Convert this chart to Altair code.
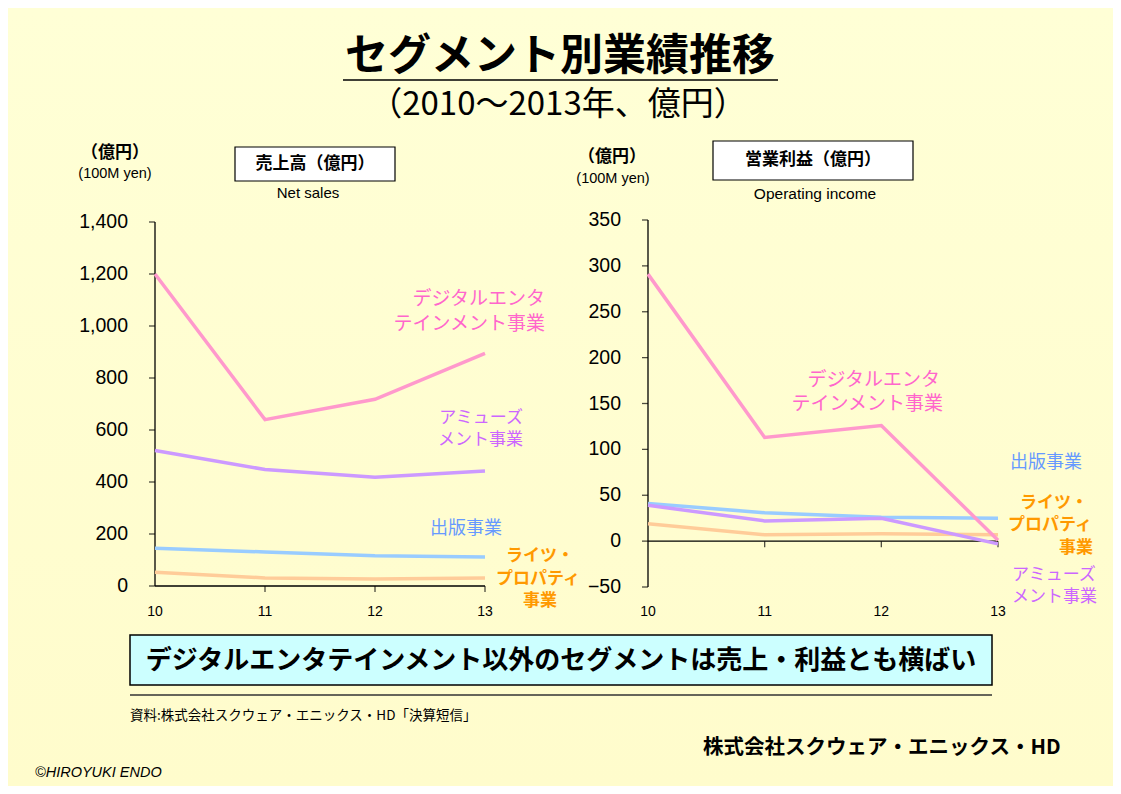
import altair as alt
import pandas as pd

# ---------------- data ----------------
years = [10, 11, 12, 13]
series_names = ["出版事業", "ライツ・プロパティ事業", "アミューズメント事業", "デジタルエンタテインメント事業"]

sales_publishing = [145, 131, 116, 112]
sales_rights = [53, 31, 27, 31]
sales_amusement = [521, 448, 418, 442]
sales_digital = [1200, 640, 718, 895]

op_publishing = [41, 31, 26, 25]
op_rights = [19, 7, 8, 7]
op_amusement = [39, 22, 25, -3]
op_digital = [291, 113, 126, 1]

sales_ticks = [0, 200, 400, 600, 800, 1000, 1200, 1400]
op_ticks = [-50, 0, 50, 100, 150, 200, 250, 300, 350]
x_ticks = [11, 12, 13]

line_colors = ["#99CCFF", "#FFCC99", "#CC99FF", "#FF99CC"]

O = 8  # page margin
JP = "Noto Sans CJK JP"
LAT = "Liberation Sans"

one = pd.DataFrame({"a": [0]})


def P(v):
    return v - O


def txt(t, x, y, size, color="black", weight="normal", align="center", font=JP, style="normal"):
    return alt.Chart(one).mark_text(
        text=t, fontSize=size, color=color, fontWeight=weight, align=align,
        baseline="middle", font=font, fontStyle=style
    ).encode(x=alt.value(P(x)), y=alt.value(P(y)))


def box(x1, y1, x2, y2, fill, stroke="black", sw=1.2):
    return alt.Chart(one).mark_rect(fill=fill, stroke=stroke, strokeWidth=sw).encode(
        x=alt.value(P(x1)), x2=alt.value(P(x2)), y=alt.value(P(y1)), y2=alt.value(P(y2)))


def hline(x1, x2, y, color="black", sw=1.5):
    return alt.Chart(one).mark_rule(color=color, strokeWidth=sw).encode(
        x=alt.value(P(x1)), x2=alt.value(P(x2)), y=alt.value(P(y)))


def panel(series, ticks, ydom, xrange_px, yrange_px, fmt):
    xs = alt.Scale(domain=[10, 13], range=[P(xrange_px[0]), P(xrange_px[1])], nice=False, zero=False)
    ys = alt.Scale(domain=ydom, range=[P(yrange_px[0]), P(yrange_px[1])], nice=False, zero=False)
    layers = []
    tdf = pd.DataFrame({"v": ticks})
    xdf = pd.DataFrame({"yr": x_ticks})
    ldf = pd.DataFrame({"yr": years})
    # axes
    layers.append(alt.Chart(one).mark_rule(color="black", strokeWidth=1.3).encode(
        x=alt.datum(10, scale=xs, axis=None), y=alt.datum(ydom[0], scale=ys, axis=None),
        y2=alt.datum(ydom[1])))
    layers.append(alt.Chart(one).mark_rule(color="black", strokeWidth=1.3).encode(
        x=alt.datum(10, scale=xs, axis=None), x2=alt.datum(13),
        y=alt.datum(0, scale=ys, axis=None)))
    layers.append(alt.Chart(tdf).mark_tick(orient="horizontal", size=6, thickness=1.3,
                                            color="black", xOffset=-3).encode(
        x=alt.datum(10, scale=xs, axis=None), y=alt.Y("v:Q", scale=ys, axis=None)))
    layers.append(alt.Chart(xdf).mark_tick(orient="vertical", size=6, thickness=1.3,
                                            color="black", yOffset=3).encode(
        x=alt.X("yr:Q", scale=xs, axis=None), y=alt.datum(0, scale=ys, axis=None)))
    layers.append(alt.Chart(tdf).mark_text(align="right", baseline="middle", dx=-27,
                                            fontSize=19.5, font=LAT, color="black").encode(
        x=alt.datum(10, scale=xs, axis=None), y=alt.Y("v:Q", scale=ys, axis=None),
        text=alt.Text("v:Q", format=fmt)))
    layers.append(alt.Chart(ldf).mark_text(baseline="middle", fontSize=14, font=LAT,
                                            color="black").encode(
        x=alt.X("yr:Q", scale=xs, axis=None), y=alt.value(P(612)), text=alt.Text("yr:Q")))
    # lines
    for vals, col in zip(series, line_colors):
        d = pd.DataFrame({"yr": years, "v": vals})
        layers.append(alt.Chart(d).mark_line(color=col, strokeWidth=3.5).encode(
            x=alt.X("yr:Q", scale=xs, axis=None), y=alt.Y("v:Q", scale=ys, axis=None)))
    return alt.layer(*layers)


left = panel([sales_publishing, sales_rights, sales_amusement, sales_digital],
             sales_ticks, [0, 1400], (155, 485), (586, 222), ",")
right = panel([op_publishing, op_rights, op_amusement, op_digital],
              op_ticks, [-50, 350], (648, 998), (587, 220), "d")

bg = alt.Chart(one).mark_rect(
    color=alt.LinearGradient(gradient="linear",
                             stops=[alt.GradientStop(color="#FFFFD6", offset=0),
                                    alt.GradientStop(color="#FFFCCC", offset=1)],
                             x1=0, x2=0, y1=0, y2=1)
).encode(x=alt.value(0), x2=alt.value(1105), y=alt.value(0), y2=alt.value(778))

deco = [
    txt("セグメント別業績推移", 560, 57, 43, weight="bold"),
    hline(343, 778, 80, sw=1.5),
    txt("（2010～2013年、億円）", 558, 105, 33),
    # left header
    txt("（億円）", 115, 153, 17, weight="bold"),
    txt("(100M yen)", 115, 174, 14.5, font=LAT),
    box(235, 147, 395, 181, "white"),
    txt("売上高（億円）", 315, 164, 17, weight="bold"),
    txt("Net sales", 308, 193, 15, font=LAT),
    # right header
    txt("（億円）", 612, 157, 17, weight="bold"),
    txt("(100M yen)", 613, 179, 14.5, font=LAT),
    box(713, 141, 913, 180, "white"),
    txt("営業利益（億円）", 813, 160, 17, weight="bold"),
    txt("Operating income", 815, 194, 15.5, font=LAT),
    # left annotations
    txt("デジタルエンタ", 545, 299, 19, color="#FF66CC", align="right"),
    txt("テインメント事業", 545, 324, 19, color="#FF66CC", align="right"),
    txt("アミューズ", 523, 418, 17, color="#CC66FF", align="right"),
    txt("メント事業", 523, 440, 17, color="#CC66FF", align="right"),
    txt("出版事業", 466, 529, 18, color="#6699FF"),
    txt("ライツ・", 540, 556, 17, color="#FF9900", weight="bold"),
    txt("プロパティ", 538, 579, 17, color="#FF9900", weight="bold"),
    txt("事業", 540, 601, 17, color="#FF9900", weight="bold"),
    # right annotations
    txt("デジタルエンタ", 940, 380, 19, color="#FF66CC", align="right"),
    txt("テインメント事業", 943, 404, 19, color="#FF66CC", align="right"),
    txt("出版事業", 1010, 463, 18, color="#6699FF", align="left"),
    txt("ライツ・", 1088, 503, 17, color="#FF9900", weight="bold", align="right"),
    txt("プロパティ", 1092, 525, 17, color="#FF9900", weight="bold", align="right"),
    txt("事業", 1093, 548, 17, color="#FF9900", weight="bold", align="right"),
    txt("アミューズ", 1012, 575, 17, color="#CC66FF", align="left"),
    txt("メント事業", 1012, 597, 17, color="#CC66FF", align="left"),
    # bottom
    box(130, 635, 992, 685, "#CCFFFF", sw=1.5),
    txt("デジタルエンタテインメント以外のセグメントは売上・利益とも横ばい", 561, 661, 26, weight="bold"),
    hline(130, 992, 695, color="#333333", sw=1.5),
    txt("資料:株式会社スクウェア・エニックス・HD「決算短信」", 130, 716, 13.5, align="left"),
    txt("株式会社スクウェア・エニックス・HD", 703, 748, 20.5, weight="bold", align="left"),
    txt("©HIROYUKI  ENDO", 35, 773, 14.5, font=LAT, style="italic", align="left"),
]

chart = alt.layer(bg, *deco, left, right).resolve_scale(
    x="independent", y="independent"
).properties(
    width=1105, height=778, padding=0,
    autosize=alt.AutoSizeParams(type="none"),
    background="#FFFFD6"
).configure_view(stroke=None)

chart.save("out.html", embed_options={"renderer": "svg", "actions": False})
